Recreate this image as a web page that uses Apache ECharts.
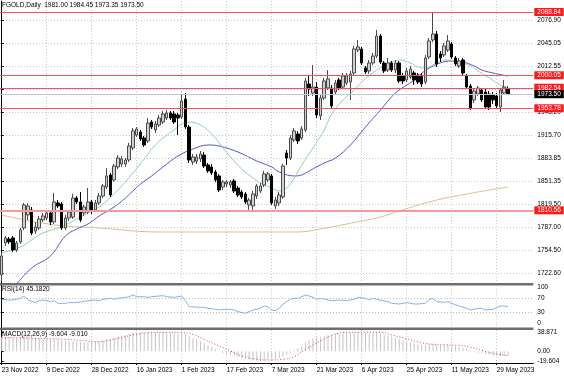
<!DOCTYPE html>
<html>
<head>
<meta charset="utf-8">
<script src="https://cdn.jsdelivr.net/npm/echarts@6/dist/echarts.min.js"></script>
<style>
  html, body { margin: 0; padding: 0; background: #fff; }
  #main { width: 564px; height: 376px; }
</style>
</head>
<body>
<div id="main"></div>
<script>
// daily bars, index 0 = 23 Nov 2022
const opens = [1719.9,1764.8,1770.4,1771.8,1754.9,1766.2,1785.8,1804.1,1811.1,1781.6,
  1785.8,1797.0,1799.8,1806.9,1794.2,1820.9,1819.5,1785.8,1799.8,1801.2,
  1827.9,1822.3,1806.9,1808.3,1822.3,1811.1,1820.9,1830.7,1843.3,1860.2,
  1853.2,1871.4,1875.6,1875.6,1881.2,1898.1,1916.3,1920.5,1912.1,1907.9,
  1934.5,1923.3,1930.3,1934.5,1940.1,1947.2,1945.8,1944.4,1941.5,1966.8,
  1927.5,1878.4,1879.8,1882.6,1888.2,1874.2,1871.4,1864.4,1858.8,1843.3,
  1847.5,1846.1,1851.8,1841.9,1836.3,1833.5,1818.1,1816.7,1830.7,1837.7,
  1846.1,1853.2,1858.8,1816.7,1820.9,1829.3,1891.0,1884.0,1909.3,1917.7,
  1912.1,1923.3,1987.8,1975.2,1983.6,1943.0,1968.2,1982.2,1982.2,1976.6,
  1993.5,1983.6,1989.3,1990.7,2003.3,2035.5,2037.0,2010.3,2006.1,2017.3,
  2027.1,2055.2,2017.3,2007.5,2017.3,2007.5,2017.3,1999.1,1993.5,1997.7,
  2003.3,2000.5,1999.1,1990.7,2025.7,2049.6,2058.0,2029.9,2028.5,2035.5,
  2044.0,2024.3,2013.1,2021.5,1999.1,1985.0,1965.4,1973.8,1979.4,1976.6,
  1973.8,1972.4,1971.0,1955.6,1975.2,1981.00];
const highs = [1752.1,1774.6,1773.2,1774.6,1767.6,1785.8,1820.9,1820.9,1815.3,1794.2,
  1802.7,1806.9,1811.1,1809.7,1834.9,1825.1,1822.3,1804.1,1811.1,1833.5,
  1830.7,1836.3,1818.1,1841.9,1825.1,1825.1,1834.9,1847.5,1870.0,1863.0,
  1875.6,1888.2,1886.8,1884.0,1905.1,1926.1,1927.5,1923.3,1914.9,1940.1,
  1937.3,1935.9,1944.4,1950.0,1951.4,1950.0,1950.0,1947.2,1972.4,1975.2,
  1930.3,1889.6,1889.6,1893.8,1892.4,1877.0,1875.6,1867.2,1861.6,1853.2,
  1853.2,1853.2,1854.6,1844.7,1839.1,1836.3,1827.9,1837.7,1847.5,1849.0,
  1865.8,1864.4,1861.6,1829.3,1836.3,1875.6,1895.2,1916.3,1926.1,1921.9,
  1928.9,1996.3,1999.1,2014.5,1990.7,1972.4,1996.3,2007.5,1986.4,1993.5,
  1996.3,2003.3,2003.3,2006.1,2041.2,2049.6,2039.8,2013.1,2021.5,2031.3,
  2063.6,2058.0,2020.1,2024.3,2020.1,2021.5,2020.1,2003.3,2010.3,2013.1,
  2006.1,2003.3,2003.3,2028.5,2052.4,2087.5,2062.2,2034.1,2045.4,2056.6,
  2046.8,2027.1,2024.3,2024.3,2001.9,1987.8,1982.2,1985.0,1982.2,1980.8,
  1978.0,1976.6,1975.2,1982.2,1993.5,1984.45];
const lows = [1711.5,1760.6,1763.4,1752.1,1752.1,1763.4,1783.0,1797.0,1776.0,1777.4,
  1783.0,1794.2,1797.0,1790.0,1791.4,1813.9,1783.0,1783.0,1795.6,1798.4,
  1819.5,1794.2,1802.7,1805.5,1805.5,1808.3,1818.1,1827.9,1840.5,1829.3,
  1850.4,1868.6,1871.4,1871.4,1878.4,1895.2,1913.5,1907.9,1899.5,1905.1,
  1924.7,1919.1,1927.5,1931.7,1937.3,1937.3,1931.7,1916.3,1938.7,1924.7,
  1877.0,1874.2,1875.6,1878.4,1870.0,1863.0,1860.2,1850.4,1836.3,1839.1,
  1843.3,1841.9,1834.9,1829.3,1826.5,1819.5,1811.1,1811.1,1826.5,1834.9,
  1843.3,1850.4,1818.1,1812.5,1816.7,1826.5,1874.2,1881.2,1906.5,1903.7,
  1909.3,1920.5,1971.0,1971.0,1940.1,1937.3,1965.4,1979.4,1952.8,1972.4,
  1979.4,1980.8,1986.4,1965.4,2000.5,2032.7,2014.5,2001.9,2001.9,2014.5,
  2024.3,2015.9,2003.3,2004.7,2004.7,2003.3,1989.3,1987.8,1990.7,1994.9,
  1986.4,1987.8,1983.6,1987.8,2022.9,2046.8,2011.7,2018.7,2025.7,2032.7,
  2022.9,2013.1,2010.3,2000.5,1980.8,1951.4,1961.2,1971.0,1962.6,1952.8,
  1951.4,1959.8,1954.2,1948.6,1972.4,1973.35];
const closes = [1746.5,1771.8,1766.2,1754.9,1764.8,1783.0,1818.1,1816.7,1778.8,1787.2,
  1798.4,1802.7,1806.9,1794.2,1822.3,1816.7,1785.8,1799.8,1808.3,1827.9,
  1822.3,1797.0,1815.3,1822.3,1809.7,1820.9,1830.7,1844.7,1858.8,1832.1,
  1872.8,1884.0,1882.6,1881.2,1900.9,1921.9,1924.7,1910.7,1902.3,1933.1,
  1927.5,1931.7,1940.1,1945.8,1947.2,1940.1,1934.5,1940.1,1964.0,1927.5,
  1881.2,1885.4,1885.4,1889.6,1872.8,1865.8,1863.0,1853.2,1839.1,1850.4,
  1850.4,1850.4,1837.7,1832.1,1829.3,1822.3,1825.1,1833.5,1844.7,1844.7,
  1861.6,1861.6,1820.9,1825.1,1832.1,1872.8,1884.0,1912.1,1921.9,1907.9,
  1924.7,1992.1,1980.8,1983.6,1944.4,1968.2,1992.1,1994.9,1957.0,1989.3,
  1982.2,1999.1,1999.1,2001.9,2037.0,2039.8,2017.3,2004.7,2017.3,2027.1,
  2055.2,2018.7,2006.1,2017.3,2007.5,2017.3,1992.1,1992.1,2006.1,2008.9,
  1993.5,1990.7,1987.8,2024.3,2048.2,2058.0,2015.9,2024.3,2041.2,2048.2,
  2025.7,2015.9,2020.1,2003.3,1983.6,1954.2,1978.0,1982.2,1965.4,1955.6,
  1955.6,1965.4,1957.0,1979.4,1983.6,1973.50];

// moving averages: [bar, price]
const maFast = [[0,1750.7],[5,1759.1],[8,1769.0],[11,1778.8],[15,1785.8],[17,1790.0],[20,1798.4],
  [23,1806.9],[25,1812.5],[27,1819.5],[30,1833.5],[32,1844.7],[35,1863.0],[38,1882.6],[40,1896.6],
  [43,1912.1],[46,1923.3],[48,1931.7],[50,1934.5],[53,1930.3],[56,1917.7],[58,1905.1],[61,1885.4],
  [64,1868.6],[67,1856.0],[70,1846.1],[72,1841.9],[74,1837.7],[76,1841.9],[78,1856.0],[80,1874.2],
  [83,1898.1],[86,1923.3],[88,1945.8],[91,1965.4],[94,1979.4],[96,1990.6],[100,2007.5],[104,2018.7],
  [106,2021.5],[109,2017.3],[111,2011.7],[113,2010.3],[116,2017.3],[119,2021.5],[122,2018.7],
  [125,2013.1],[127,2006.1],[130,1996.3],[133,1986.4],[135,1982.2]];
const maMid = [[4,1707.2],[8,1729.7],[13,1746.5],[17,1774.6],[20,1784.4],[23,1791.4],[26,1802.7],
  [30,1815.3],[33,1827.9],[37,1847.5],[40,1858.8],[43,1871.4],[47,1886.8],[51,1896.6],[55,1902.2],
  [58,1900.8],[63,1892.4],[68,1879.8],[72,1871.4],[74,1864.4],[78,1858.8],[80,1860.2],[82,1865.8],
  [86,1877.0],[89,1884.0],[93,1902.2],[97,1927.5],[101,1951.3],[105,1975.2],[110,1993.4],[114,2010.3],
  [120,2020.1],[123,2018.7],[126,2013.1],[128,2007.5],[131,2003.3],[135,1999.0]];
const maSlow = [[0,1804.0],[9,1794.2],[17,1788.6],[26,1785.8],[42,1780.2],[79,1780.2],[85,1784.4],
  [92,1791.4],[101,1801.2],[106,1809.7],[115,1823.7],[124,1833.5],[135,1843.3]];

// RSI(14): [bar, value]
const rsiPts = [[0,65.7],[2,64],[3,64],[5,68.5],[6,75],[7,64],[9,56.5],[10,62],[11,64],[13,59.3],[14,62],
  [15,54.6],[17,54.6],[18,56.5],[19,56.5],[21,58.3],[22,60.2],[23,62],[25,64],[26,62],[27,65.7],[29,68.5],
  [30,65.7],[31,68.5],[33,71.3],[34,73.1],[35,77.8],[36,73.1],[38,73.1],[39,71.3],[40,73.1],[42,75],
  [43,75.9],[44,73.1],[46,71.3],[47,73.1],[48,75],[49,62],[50,45.4],[51,45],[52,44],[53,43.5],[54,43.5],
  [55,41],[57,38],[58,36.1],[59,38],[61,38],[62,36.1],[63,31.5],[65,26.9],[66,31.5],[67,36.1],[69,40.7],
  [70,47.2],[71,45.4],[72,36.1],[73,34.3],[74,40.7],[75,52.8],[76,59.3],[77,65.7],[78,68.5],[79,68.5],
  [81,77.8],[82,75],[83,71.3],[84,65.7],[85,68.5],[87,63.9],[88,62],[90,63.9],[92,62],[94,65.7],[95,71.3],
  [97,68.5],[98,63.9],[99,68.5],[101,63],[103,59.3],[104,54.6],[106,52.8],[108,56.5],[110,52.8],[111,52.8],
  [113,54.6],[114,65.7],[115,68.5],[116,59.3],[118,57.4],[119,59.3],[120,54.6],[122,47.2],[124,40.7],
  [125,36.1],[127,40.7],[128,40.7],[129,36.1],[131,38],[132,43],[133,47.2],[134,47.2],[135,45.182]];

// MACD(12,26,9) main per bar, signal sparse
const macdMain = [29,29,28,27,27,28,30,31,29,28,27,
  26,25,24,24,24,22,21,20,20,20,
  19,18,18,18,19,20,22,25,25,27,
  30,32,33,35,37,38,38,37,38,38,
  38,38.5,38.87,38.5,38,37,36,37,35,30,
  26,23,20,16,12,8,4,0,-3,-5,
  -7,-9,-11,-13,-15,-17,-18,-19,-19.6,-19,
  -17,-17,-16,-14,-10,-7,-3,2,6,10,
  17,22,26,28,29,31,33,33,34,35,
  36,37,38,38.5,38.87,38,37,37,37,38,
  36,34,32,30,28,25,22,20,18,16,
  14,13,13,14,15,13,12,12,12,11,
  10,9,7,5,1,-1,-3,-4,-6,-7,
  -8,-9,-9.5,-9.6,-9.604];
const macdSignal = [[0,28.2],[8,26.2],[17,24.2],[23,20.7],[26,19.3],[29,22.7],[31,26.2],[35,32.8],
  [39,37.5],[44,38.2],[48,37.5],[51,34.2],[54,24.2],[57,14.1],[61,0.6],[64,-9.5],[68,-16.2],[71,-17.6],
  [75,-16.2],[78,-10.9],[81,4],[85,20.7],[88,32.1],[91,37.5],[94,38.3],[101,38.3],[104,33],[108,25],
  [112,17],[115,14],[118,13],[122,12],[125,8],[128,2],[131,-4],[133,-7],[135,-9.01]];

const priceTicks = [2076.90, 2045.05, 2012.55, 1980.70, 1948.20, 1915.70, 1883.85, 1851.35, 1819.50, 1787.00, 1754.50, 1722.60];
const rsiTicks = [100, 70, 30, 0];
const macdTicks = [38.871, 0, -19.604];
const dateTicks = [0, 12, 24, 36, 48, 60, 72, 84, 96, 108, 120, 132];
const dateLabels = ['23 Nov 2022', '9 Dec 2022', '28 Dec 2022', '16 Jan 2023', '1 Feb 2023', '17 Feb 2023',
  '7 Mar 2023', '21 Mar 2023', '6 Apr 2023', '25 Apr 2023', '11 May 2023', '29 May 2023'];
const levels = [2088.84, 2000.05, 1982.54, 1953.78, 1810.56];

const FONT = 'Liberation Sans';
const FS = 6.5;
const last = opens.length - 1;
const chart = echarts.init(document.getElementById('main'));

const gridBox = (top, height) => ({
  left: 0, width: 533.3, top: top, height: height,
  containLabel: false, outerBoundsMode: 'none', show: false
});

const xAxisFor = (gi, showLabels) => ({
  type: 'value', gridIndex: gi, min: -0.45, max: 141.75,
  axisLine: { show: showLabels, onZero: false, lineStyle: { color: '#000', width: 1 } },
  axisTick: { show: showLabels, customValues: dateTicks, length: 2, lineStyle: { color: '#000' } },
  axisLabel: {
    show: showLabels, customValues: dateTicks, align: 'left', margin: 4,
    fontSize: FS, fontFamily: FONT, color: '#000',
    formatter: v => dateLabels[dateTicks.indexOf(v)] || ''
  },
  splitLine: { show: true, lineStyle: { color: '#c8c8c8', type: [1, 2], width: 1 } }
});

const yLabel = { fontSize: FS, fontFamily: FONT, color: '#000', margin: 4 };

const levelLines = levels.map((v, k) => ({
  yAxis: v,
  lineStyle: { color: v === 1810.56 ? '#f39b9b' : '#ee5555', width: v === 1810.56 ? 2 : 1, type: 'solid' },
  label: { backgroundColor: '#ff1a1a', color: '#fff' }
}));
levelLines.push({
  yAxis: closes[last],
  lineStyle: { color: '#c4c4dc', width: 1, type: 'solid' },
  label: { backgroundColor: '#000', color: '#fff' }
});

const option = {
  animation: false,
  backgroundColor: '#fff',
  title: [
    { text: `FGOLD,Daily  ${opens[last].toFixed(2)} ${highs[last].toFixed(2)} ${lows[last].toFixed(2)} ${closes[last].toFixed(2)}`,
      left: 2, top: 2, padding: 0,
      textStyle: { fontSize: FS, fontWeight: 'normal', fontFamily: FONT, color: '#000' } },
    { text: `RSI(14) ${rsiPts[rsiPts.length - 1][1].toFixed(4)}`, left: 2, top: 286, padding: 0,
      textStyle: { fontSize: FS, fontWeight: 'normal', fontFamily: FONT, color: '#000' } },
    { text: `MACD(12,26,9) ${macdMain[last].toFixed(3)} ${macdSignal[macdSignal.length - 1][1].toFixed(3)}`,
      left: 2, top: 331, padding: 0,
      textStyle: { fontSize: FS, fontWeight: 'normal', fontFamily: FONT, color: '#000' } }
  ],
  grid: [gridBox(1, 282), gridBox(285.5, 42), gridBox(330, 33)],
  xAxis: [xAxisFor(0, false), xAxisFor(1, false), xAxisFor(2, true)],
  yAxis: [
    { type: 'value', gridIndex: 0, position: 'right', min: 1708.6, max: 2104.3,
      axisLine: { show: true, lineStyle: { color: '#000' } },
      axisTick: { show: true, customValues: priceTicks, length: 2, lineStyle: { color: '#000' } },
      axisLabel: Object.assign({ customValues: priceTicks, formatter: v => v.toFixed(2) }, yLabel),
      splitLine: { show: true, lineStyle: { color: '#c8c8c8', type: [1, 2] } } },
    { type: 'value', gridIndex: 1, position: 'right', min: -12.5, max: 104.17,
      axisLine: { show: true, lineStyle: { color: '#000' } },
      axisTick: { show: true, customValues: [70, 30], length: 2, lineStyle: { color: '#000' } },
      axisLabel: Object.assign({ customValues: rsiTicks, formatter: v => String(v) }, yLabel),
      splitLine: { show: true, lineStyle: { color: '#b8b8b8', type: [1, 2] } } },
    { type: 'value', gridIndex: 2, position: 'right', min: -23.64, max: 42.9,
      axisLine: { show: true, lineStyle: { color: '#000' } },
      axisTick: { show: true, customValues: macdTicks, length: 2, lineStyle: { color: '#000' } },
      axisLabel: Object.assign({ customValues: macdTicks, formatter: v => v === 0 ? '0.00' : v.toFixed(3) }, yLabel),
      splitLine: { show: false } }
  ],
  graphic: [
    { type: 'rect', shape: { x: 0, y: 283, width: 533.3, height: 2.5 }, style: { fill: '#6e6e6e' }, silent: true },
    { type: 'rect', shape: { x: 0, y: 327.5, width: 533.3, height: 2.5 }, style: { fill: '#6e6e6e' }, silent: true }
  ],
  series: [
    { name: 'MA slow', type: 'line', xAxisIndex: 0, yAxisIndex: 0, data: maSlow, smooth: 0.4,
      showSymbol: false, lineStyle: { color: '#dcbf94', width: 1 }, z: 1 },
    { name: 'MA mid', type: 'line', xAxisIndex: 0, yAxisIndex: 0, data: maMid, smooth: 0.4,
      showSymbol: false, lineStyle: { color: '#5858c8', width: 1 }, z: 1 },
    { name: 'MA fast', type: 'line', xAxisIndex: 0, yAxisIndex: 0, data: maFast, smooth: 0.4,
      showSymbol: false, lineStyle: { color: '#92d2a6', width: 1 }, z: 1 },
    {
      name: 'FGOLD', type: 'candlestick', xAxisIndex: 0, yAxisIndex: 0, clip: false,
      data: opens.map((o, i) => [i, o, closes[i], lows[i], highs[i]]),
      encode: { x: 0, y: [1, 2, 3, 4] },
      barWidth: 3,
      itemStyle: { color: '#d0d0d0', color0: '#000', borderColor: '#4a4a4a', borderColor0: '#000', borderWidth: 1 },
      z: 3,
      markLine: {
        silent: true, symbol: 'none', precision: 2,
        label: { show: true, position: 'end', distance: 1, fontSize: FS, fontFamily: FONT,
          padding: [1, 3, 0, 3], formatter: p => p.value.toFixed(2) },
        data: levelLines
      }
    },
    { name: 'RSI', type: 'line', xAxisIndex: 1, yAxisIndex: 1, data: rsiPts, showSymbol: false,
      lineStyle: { color: '#7db6e8', width: 1 } },
    { name: 'MACD', type: 'bar', xAxisIndex: 2, yAxisIndex: 2, barWidth: 1,
      data: macdMain.map((v, i) => [i, v]), itemStyle: { color: '#c4c4c4' } },
    { name: 'Signal', type: 'line', xAxisIndex: 2, yAxisIndex: 2, data: macdSignal, smooth: 0.4,
      showSymbol: false, lineStyle: { color: '#e04848', width: 1, type: [1, 2] } }
  ]
};

chart.setOption(option);
</script>
</body>
</html>
